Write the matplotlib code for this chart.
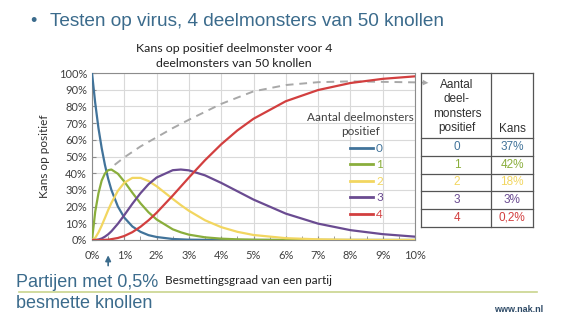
import matplotlib
matplotlib.use("Agg")
import matplotlib.pyplot as plt
from matplotlib.ticker import MultipleLocator, FuncFormatter

# besmettingsgraad (%) en kans (%) op 0..4 positieve deelmonsters
besmetting = [0, 0.1, 0.2, 0.3, 0.4, 0.5, 0.6, 0.8, 1.0, 1.25, 1.5, 1.75, 2.0,
              2.5, 2.75, 3.0, 3.5, 4.0, 4.5, 5.0, 6.0, 7.0, 8.0, 9.0, 10.0]
kans_0 = [100, 82, 67, 55, 45, 36.7, 30, 20.1, 13.4, 8.1, 4.9, 2.9, 1.8,
          0.6, 0.4, 0.2, 0.1, 0, 0, 0, 0, 0, 0, 0, 0]
kans_1 = [0, 17, 28, 35.6, 39.8, 41.8, 42.2, 39.7, 35.0, 28.3, 22.0, 16.6, 12.3,
          6.4, 4.6, 3.2, 1.6, 0.8, 0.4, 0.2, 0, 0, 0, 0, 0]
kans_2 = [0, 1.3, 4.5, 8.6, 13.2, 17.9, 22.2, 29.4, 34.3, 37.2, 37.2, 35.3, 32.2,
          24.6, 20.9, 17.5, 11.8, 7.7, 4.9, 3.0, 1.1, 0.4, 0.1, 0, 0]
kans_3 = [0, 0, 0.3, 0.9, 2.0, 3.4, 5.2, 9.7, 14.9, 21.7, 28.0, 33.4, 37.4,
          41.8, 42.2, 41.7, 38.7, 34.2, 29.2, 24.2, 15.8, 9.8, 5.9, 3.5, 2.0]
kans_4 = [0, 0, 0, 0, 0.1, 0.2, 0.5, 1.2, 2.4, 4.7, 7.9, 11.8, 16.3,
          26.6, 32.0, 37.4, 47.8, 57.3, 65.6, 72.6, 83.1, 89.8, 94.0, 96.5, 98.0]

# grijze stippellijn naar de tabel
pijl_x = [0.7, 1.0, 1.5, 2.0, 2.5, 3.0, 4.0, 5.0, 6.0, 7.0, 8.0, 9.0, 10.0, 10.3]
pijl_y = [45, 49.5, 56, 61.5, 67, 72, 81.5, 89, 92.8, 94.5, 95, 94.7, 94.4, 94.2]

# tabel bij 0,5% besmetting
aantal = ["0", "1", "2", "3", "4"]
kans_tabel = ["37%", "42%", "18%", "3%", "0,2%"]

kleuren = ["#41739a", "#8aae3c", "#f2d660", "#6a4b91", "#d23f3f"]
blauw = "#3b6b8c"
W, H = 578, 328

fig = plt.figure(figsize=(W / 100, H / 100), dpi=100)
fig.patch.set_facecolor("white")

def px(x0, y0, x1, y1):
    return [x0 / W, 1 - y1 / H, (x1 - x0) / W, (y1 - y0) / H]

ax = fig.add_axes(px(92, 73, 415, 240))
series = [kans_0, kans_1, kans_2, kans_3, kans_4]
for i, (ys, c) in enumerate(zip(series, kleuren)):
    ax.plot(besmetting, ys, color=c, lw=1.6, label=aantal[i], zorder=3)

ax.plot(pijl_x, pijl_y, color="#a8a8a8", lw=1.4, ls=(0, (4, 3)),
        clip_on=False, zorder=2)
ax.annotate("", xy=(10.5, 94.0), xytext=(10.3, 94.2),
            arrowprops=dict(arrowstyle="-|>", color="#a8a8a8", lw=0,
                            mutation_scale=10),
            annotation_clip=False)

ax.set_xlim(0, 10)
ax.set_ylim(0, 100)
ax.xaxis.set_major_locator(MultipleLocator(1))
ax.xaxis.set_minor_locator(MultipleLocator(0.5))
ax.yaxis.set_major_locator(MultipleLocator(10))
pct = FuncFormatter(lambda v, _: f"{v:.0f}%")
ax.xaxis.set_major_formatter(pct)
ax.yaxis.set_major_formatter(pct)
ax.grid(True, which="major", color="#d9d9d9", lw=0.8)
ax.set_axisbelow(True)
for s in ax.spines.values():
    s.set_color("#8c8c8c")
    s.set_linewidth(0.8)
ax.tick_params(which="both", direction="in", length=3, color="#8c8c8c",
               labelsize=8, labelcolor="#404040")
ax.tick_params(axis="x", pad=7)
for lab in ax.get_xticklabels() + ax.get_yticklabels():
    lab.set_family("Lato")
ax.set_ylabel("Kans op positief", fontsize=8.5, family="Lato",
              color="#303030", labelpad=6)

# legenda: titel los, regels met lijn links van het getal
ax.text((360 - 92) / 323, (240 - 124.5) / 167,
        "Aantal deelmonsters\npositief", transform=ax.transAxes,
        fontsize=8.5, family="Lato", color="#404040", ha="center",
        va="center", multialignment="center", linespacing=1.25)
leg = ax.legend(loc="upper left", bbox_to_anchor=(0.799, 0.582),
                frameon=False, borderpad=0, borderaxespad=0,
                labelcolor="linecolor", handlelength=1.9, handletextpad=0.3,
                labelspacing=0.47, prop={"family": "Lato", "size": 8.5})
for h in leg.legend_handles:
    h.set_linewidth(2.0)

# overlay in pixelcoordinaten voor tekst en tabel
ov = fig.add_axes([0, 0, 1, 1], facecolor="none")
ov.set_xlim(0, W)
ov.set_ylim(H, 0)
ov.axis("off")

ov.text(33, 21, "\u2022", fontsize=13, color=blauw, ha="center", va="center",
        family="Liberation Sans")
ov.text(50, 21, "Testen op virus, 4 deelmonsters van 50 knollen",
        fontsize=13.7, color=blauw, ha="left", va="center",
        family="Liberation Sans")
ov.text(234, 56, "Kans op positief deelmonster voor 4\ndeelmonsters van 50 knollen",
        fontsize=8.9, color="#202020", ha="center", va="center",
        family="Lato", linespacing=1.4)
ov.text(165, 281, "Besmettingsgraad van een partij", fontsize=8.5,
        color="#202020", ha="left", va="center", family="Lato")

ax.annotate("", xy=(0.5, -0.075), xycoords=("data", "axes fraction"),
            xytext=(0.5, -0.17), textcoords=("data", "axes fraction"),
            arrowprops=dict(arrowstyle="-|>", color=blauw, lw=1.2,
                            mutation_scale=8),
            annotation_clip=False)
ov.text(16, 287, "Partijen met 0,5%", fontsize=13, color=blauw,
        ha="left", va="baseline", family="Liberation Sans")
ov.text(16, 308, "besmette knollen", fontsize=13, color=blauw,
        ha="left", va="baseline", family="Liberation Sans")
ov.plot([19, 537], [292, 292], color="#c9d48e", lw=1.2)
ov.text(543, 309, "www.nak.nl", fontsize=6.5, color="#2e4a66",
        ha="right", va="center", family="Liberation Sans", weight="bold")

# tabel
tl, tm, tr = 421, 491, 533
rijen = [73, 138, 156, 173.5, 191, 208.5, 227]
lijn = dict(color="#555555", lw=0.9)
for y in rijen:
    ov.plot([tl, tr], [y, y], **lijn)
for x in (tl, tm, tr):
    ov.plot([x, x], [rijen[0], rijen[-1]], **lijn)

kop = ["Aantal", "deel-", "monsters", "positief"]
for j, t in enumerate(kop):
    ov.text(457, 85 + j * 14.5, t, fontsize=8.5, color="#303030",
            ha="center", va="center", family="Liberation Sans")
ov.text(512, 128.5, "Kans", fontsize=8.5, color="#303030",
        ha="center", va="center", family="Liberation Sans")
for i in range(5):
    yc = (rijen[i + 1] + rijen[i + 2]) / 2
    ov.text(457, yc, aantal[i], fontsize=8.5, color=kleuren[i],
            ha="center", va="center", family="Liberation Sans")
    ov.text(512, yc, kans_tabel[i], fontsize=8.5, color=kleuren[i],
            ha="center", va="center", family="Liberation Sans")

fig.savefig("out.png", dpi=100)
